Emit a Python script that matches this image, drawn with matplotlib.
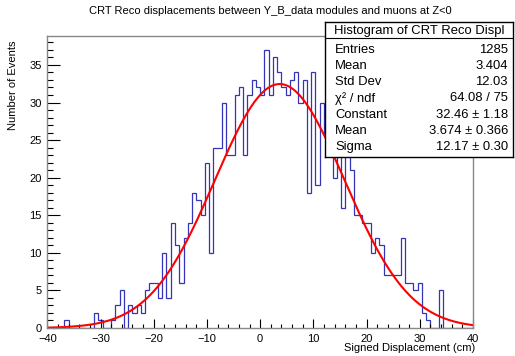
import numpy as np
import matplotlib
matplotlib.use("Agg")
import matplotlib.pyplot as plt
from matplotlib.ticker import MultipleLocator

plt.rcParams["font.family"] = ["Liberation Sans", "DejaVu Sans"]

# histogram: 100 bins of 0.8 cm between -40 and 40
x_lo, x_hi, n_bins = -40, 40, 100
counts = [
    0, 0, 0, 0, 1, 0, 0, 0, 0, 0,
    0, 2, 1, 0, 0, 1, 3, 5, 0, 3,
    2, 3, 2, 5, 6, 6, 4, 10, 4, 14,
    11, 6, 12, 14, 18, 17, 15, 22, 10, 24,
    24, 30, 23, 23, 31, 32, 23, 31, 33, 32,
    31, 37, 31, 36, 34, 32, 31, 33, 34, 30,
    33, 18, 34, 19, 30, 26, 25, 20, 24, 16,
    23, 21, 15, 15, 14, 14, 10, 12, 11, 7,
    7, 7, 7, 12, 6, 6, 5, 6, 2, 1,
    0, 0, 5, 0, 0, 0, 0, 0, 0, 0,
]

# gaussian fit result shown in the stats box
fit_const, fit_mean, fit_sigma = 32.46, 3.674, 12.17

stats_title = "Histogram of CRT Reco Displ"
stats_names = ["Entries", "Mean", "Std Dev", "χ² / ndf", "Constant", "Mean", "Sigma"]
stats_values = ["1285", "3.404", "12.03", "64.08 / 75",
                "32.46 ± 1.18", "3.674 ± 0.366", "12.17 ± 0.30"]

fig = plt.figure(figsize=(5.15, 3.56), dpi=100)
ax = fig.add_axes([47.3 / 515, 28 / 356, 425.7 / 515, 292 / 356])

edges = np.linspace(x_lo, x_hi, n_bins + 1)
ax.stairs(counts, edges, color="#3434b8", lw=0.9)

xf = np.linspace(x_lo, x_hi, 400)
ax.plot(xf, fit_const * np.exp(-0.5 * ((xf - fit_mean) / fit_sigma) ** 2),
        color="#ff0000", lw=1.5)

ax.set_xlim(x_lo, x_hi)
ax.set_ylim(0, max(counts) * 1.05)

ax.xaxis.set_major_locator(MultipleLocator(10))
ax.xaxis.set_minor_locator(MultipleLocator(2))
ax.yaxis.set_major_locator(MultipleLocator(5))
ax.yaxis.set_minor_locator(MultipleLocator(1))
ax.tick_params(axis="both", which="both", direction="in", top=False, right=False,
               labelsize=8, color="black", width=0.8)
ax.tick_params(axis="x", which="major", length=6.3, pad=4)
ax.tick_params(axis="x", which="minor", length=3.2)
ax.tick_params(axis="y", which="major", length=9.2, pad=4)
ax.tick_params(axis="y", which="minor", length=4.6)
for s in ax.spines.values():
    s.set_color("#888888")
    s.set_linewidth(1.0)

ax.set_xlabel("Signed Displacement (cm)", fontsize=8, loc="right")
ax.xaxis.set_label_coords(1.005, -0.05)
ax.set_ylabel("Number of Events", fontsize=8, loc="top")
ax.yaxis.set_label_coords(-0.068, 0.985)

fig.text(270 / 515, 1 - 10.5 / 356,
         "CRT Reco displacements between Y_B_data modules and muons at Z<0",
         ha="center", va="center", fontsize=8)

# stats box
sb = fig.add_axes([325 / 515, (356 - 157) / 356, 188 / 515, 135 / 356])
sb.set_xlim(0, 1)
sb.set_ylim(0, 1)
sb.set_xticks([])
sb.set_yticks([])
sb.set_facecolor("white")
for s in sb.spines.values():
    s.set_color("black")
    s.set_linewidth(1.0)
sb.axhline(0.881, color="black", lw=0.8)
sb.text(0.5, 0.935, stats_title, ha="center", va="center", fontsize=9.4)
for i, (n, v) in enumerate(zip(stats_names, stats_values)):
    yy = 0.795 - i * 0.1203
    sb.text(0.053, yy, n, ha="left", va="center", fontsize=9.4)
    sb.text(0.973, yy, v, ha="right", va="center", fontsize=9.4)

fig.savefig("out.png", dpi=100)
